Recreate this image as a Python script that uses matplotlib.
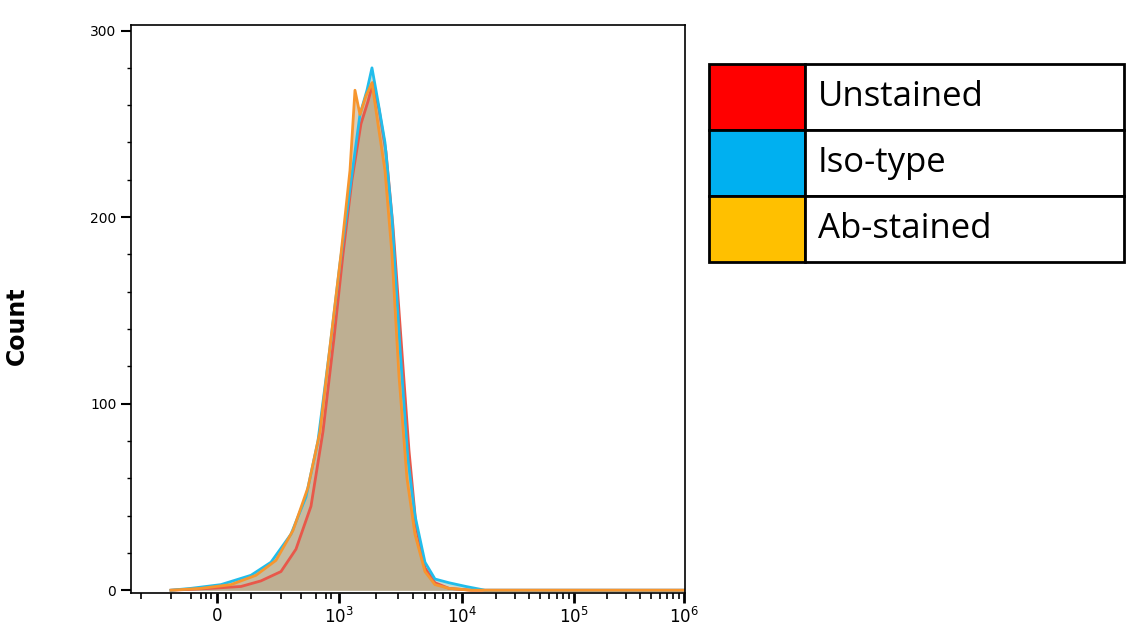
import matplotlib
matplotlib.use("Agg")
import matplotlib.pyplot as plt
from matplotlib.patches import Rectangle
import numpy as np

# x positions in display-axis units (biexponential scale, 0..554), counts
x_iso = [40, 60, 90, 120, 140, 160, 175, 187, 199, 209, 219, 229, 236, 241, 247, 254, 261, 269, 277, 284, 294, 304, 318, 335, 354, 380, 420, 554]
y_iso = [0, 1, 3, 8, 15, 30, 50, 80, 130, 175, 215, 255, 268, 280, 262, 240, 200, 130, 70, 40, 15, 6, 4, 2, 0, 0, 0, 0]
x_uns = [40, 80, 110, 130, 150, 165, 180, 192, 203, 212, 221, 230, 237, 242, 248, 255, 262, 270, 278, 285, 294, 304, 318, 340, 380, 554]
y_uns = [0, 1, 2, 5, 10, 22, 45, 85, 135, 180, 220, 250, 262, 272, 258, 235, 195, 135, 75, 35, 12, 4, 1, 0, 0, 0]
x_ab = [40, 70, 100, 125, 145, 162, 177, 189, 200, 210, 219, 224, 229, 235, 241, 247, 254, 261, 268, 276, 284, 294, 304, 318, 340, 554]
y_ab = [0, 1, 3, 8, 16, 32, 55, 85, 135, 180, 225, 268, 255, 265, 272, 250, 225, 180, 115, 60, 30, 10, 3, 1, 0, 0]

xtick_pos = [86, 208, 331, 443, 553]
xtick_lab = ["0", "$10^{3}$", "$10^{4}$", "$10^{5}$", "$10^{6}$"]
yticks = [0, 100, 200, 300]

legend_labels = ["Unstained", "Iso-type", "Ab-stained"]
legend_colors = ["#FF0000", "#00B0F0", "#FFC000"]

fig = plt.figure(figsize=(11.27, 6.27), dpi=100)
ax = fig.add_axes([0.1162, 0.0542, 0.4916, 0.906])

series = [(x_uns, y_uns, "#E8584A", "#C98A70"),
          (x_iso, y_iso, "#22BDEB", "#9DBFA8"),
          (x_ab, y_ab, "#F7962E", "#C2A47E")]
for xs, ys, lc, fc in series:
    ax.fill_between(xs, ys, 0, color=fc, alpha=0.55, lw=0)
for xs, ys, lc, fc in series:
    ax.plot(xs, ys, color=lc, lw=2)

ax.set_xlim(0, 554)
ax.set_ylim(-1.5, 303)
ax.set_xticks(xtick_pos)
ax.set_xticklabels(xtick_lab, fontsize=12)
ax.set_yticks(yticks)
ax.set_yticklabels([str(v) for v in yticks], fontsize=10)
ax.set_yticks(np.arange(0, 301, 20), minor=True)
minor_x = []
for d0, d1 in [(208, 331), (331, 443), (443, 553)]:
    for k in range(2, 10):
        minor_x.append(d0 + (d1 - d0) * np.log10(k))
minor_x += [10, 40, 60, 70, 75, 80, 95, 100, 120, 150, 170, 185, 195, 200]
ax.set_xticks(minor_x, minor=True)
ax.tick_params(axis="x", which="major", length=7, width=2, direction="out", pad=3)
ax.tick_params(axis="x", which="minor", length=4, width=1.2)
ax.tick_params(axis="y", which="major", length=7, width=1.5)
ax.tick_params(axis="y", which="minor", length=3, width=1)
for s in ax.spines.values():
    s.set_linewidth(1.2)

fig.text(0.015, 0.48, "Count", rotation=90, fontsize=17, fontweight="bold", va="center", ha="center")

# legend table
fx = lambda p: p / 1127
fy = lambda p: 1 - p / 627
rows = [(64, 130), (130, 196), (196, 262)]
for (t, b), lab, col in zip(rows, legend_labels, legend_colors):
    fig.patches.append(Rectangle((fx(709), fy(b)), fx(805) - fx(709), fy(t) - fy(b),
                                 transform=fig.transFigure, facecolor=col, edgecolor="black", lw=2))
    fig.patches.append(Rectangle((fx(805), fy(b)), fx(1124) - fx(805), fy(t) - fy(b),
                                 transform=fig.transFigure, facecolor="white", edgecolor="black", lw=2))
    fig.text(fx(818), fy((t + b) / 2), lab, fontsize=25, va="center", ha="left", family="Open Sans")

fig.savefig("out.png", dpi=100)
